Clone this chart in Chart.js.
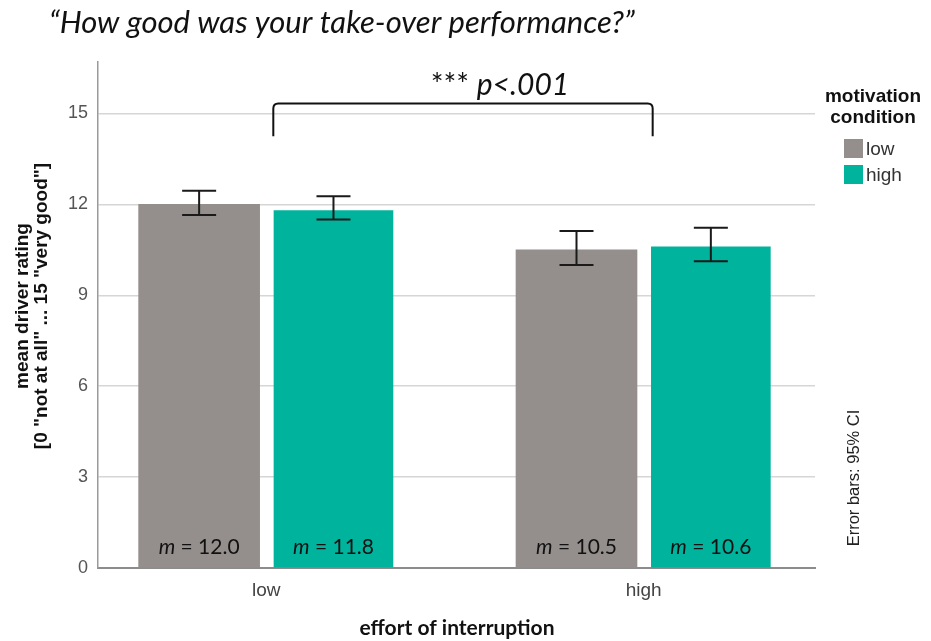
<!DOCTYPE html>
<html>
<head>
<meta charset="utf-8">
<script src="https://cdn.jsdelivr.net/npm/chart.js@4.4.1/dist/chart.umd.min.js"></script>
<style>
  html, body { margin: 0; padding: 0; background: #ffffff; }
  #wrap { width: 931px; height: 641px; position: relative; }
</style>
</head>
<body>
<div id="wrap"><canvas id="chart" width="931" height="641"></canvas></div>
<script>
// Effort of interruption (x groups) and motivation condition (series)
const effortLevels = ['low', 'high'];
const motivationLevels = ['low', 'high'];

// Mean self-rated take-over performance per group
const meansLowMotivation = [12.0, 10.5];
const meansHighMotivation = [11.8, 10.6];

// 95% confidence intervals
const ciLowMotivation = [[11.65, 12.45], [10.0, 11.12]];
const ciHighMotivation = [[11.5, 12.27], [10.12, 11.23]];

const yTicks = [0, 3, 6, 9, 12, 15];

const GRAY = '#948f8c';
const TEAL = '#00b39d';
const SANS = '"Liberation Sans", Arial, sans-serif';
const CAL = 'Lato, "Open Sans", sans-serif';

const groupX = effortLevels.map((_, i) => i + 1);
const barShift = 0.178;

function barPoints(values, dir) {
  return values.map((v, i) => ({ x: groupX[i] + dir * barShift, y: v }));
}

const overlay = {
  id: 'overlay',
  afterDatasetsDraw(chart) {
    const ctx = chart.ctx;
    const xs = chart.scales.x, ys = chart.scales.y;
    ctx.save();

    // error bars
    const series = [
      { ci: ciLowMotivation, dir: -1 },
      { ci: ciHighMotivation, dir: 1 }
    ];
    ctx.strokeStyle = '#1a1a1a';
    ctx.lineWidth = 2;
    series.forEach(s => {
      s.ci.forEach((c, i) => {
        const px = xs.getPixelForValue(groupX[i] + s.dir * barShift);
        const y1 = ys.getPixelForValue(c[0]);
        const y2 = ys.getPixelForValue(c[1]);
        ctx.beginPath();
        ctx.moveTo(px, y1); ctx.lineTo(px, y2);
        ctx.moveTo(px - 17, y1); ctx.lineTo(px + 17, y1);
        ctx.moveTo(px - 17, y2); ctx.lineTo(px + 17, y2);
        ctx.stroke();
      });
    });

    // mean labels inside the bars
    const labelY = 547;
    ctx.fillStyle = '#111';
    ctx.textBaseline = 'middle';
    [[meansLowMotivation, -1], [meansHighMotivation, 1]].forEach(([vals, dir]) => {
      vals.forEach((v, i) => {
        const px = xs.getPixelForValue(groupX[i] + dir * barShift);
        const a = 'm';
        const b = ' = ' + v.toFixed(1);
        ctx.font = 'italic 21px ' + CAL;
        const wa = ctx.measureText(a).width;
        ctx.font = '21px ' + CAL;
        const wb = ctx.measureText(b).width;
        const x0 = px - (wa + wb) / 2;
        ctx.textAlign = 'left';
        ctx.font = 'italic 21px ' + CAL;
        ctx.fillText(a, x0, labelY);
        ctx.font = '21px ' + CAL;
        ctx.fillText(b, x0 + wa, labelY);
      });
    });

    // significance bracket between effort groups
    const bx1 = xs.getPixelForValue(groupX[0]) + 7;
    const bx2 = xs.getPixelForValue(groupX[1]) + 9;
    const byTop = ys.getPixelForValue(15.33);
    const byBot = ys.getPixelForValue(14.25);
    const r = 5;
    ctx.strokeStyle = '#111';
    ctx.lineWidth = 2;
    ctx.beginPath();
    ctx.moveTo(bx1, byBot);
    ctx.lineTo(bx1, byTop + r);
    ctx.quadraticCurveTo(bx1, byTop, bx1 + r, byTop);
    ctx.lineTo(bx2 - r, byTop);
    ctx.quadraticCurveTo(bx2, byTop, bx2, byTop + r);
    ctx.lineTo(bx2, byBot);
    ctx.stroke();

    ctx.textBaseline = 'alphabetic';
    ctx.textAlign = 'left';
    const s1 = '*** ';
    const s2 = 'p<.001';
    ctx.font = '30px ' + CAL;
    const w1 = ctx.measureText(s1).width;
    ctx.font = 'italic 30px ' + CAL;
    const w2 = ctx.measureText(s2).width;
    const sx = (bx1 + bx2) / 2 + 37 - (w1 + w2) / 2;
    ctx.font = '30px ' + CAL;
    ctx.fillText(s1, sx, 95);
    ctx.font = 'italic 30px ' + CAL;
    ctx.fillText(s2, sx + w1, 95);

    // title
    ctx.font = 'italic 31px ' + CAL;
    ctx.fillStyle = '#111';
    ctx.fillText('\u201CHow good was your take-over performance?\u201D', 49, 33);

    // axis titles
    ctx.textAlign = 'center';
    ctx.textBaseline = 'middle';
    ctx.font = 'bold 21px ' + CAL;
    ctx.fillText('effort of interruption', 457, 628);

    ctx.save();
    ctx.translate(23, 306);
    ctx.rotate(-Math.PI / 2);
    ctx.font = 'bold 19px ' + SANS;
    ctx.fillText('mean driver rating', 0, 0);
    ctx.fillText('[0 "not at all" ... 15 "very good"]', 0, 19);
    ctx.restore();

    // legend
    ctx.font = 'bold 19px ' + SANS;
    ctx.fillText('motivation', 873, 97);
    ctx.fillText('condition', 873, 118);
    const boxColors = [GRAY, TEAL];
    motivationLevels.forEach((name, i) => {
      const top = 139 + i * 26;
      ctx.fillStyle = boxColors[i];
      ctx.fillRect(844, top, 19, 19);
      ctx.fillStyle = '#333';
      ctx.textAlign = 'left';
      ctx.font = '19px ' + SANS;
      ctx.fillText(name, 866, top + 11);
    });

    // error bar note
    ctx.save();
    ctx.translate(854, 478);
    ctx.rotate(-Math.PI / 2);
    ctx.textAlign = 'center';
    ctx.fillStyle = '#222';
    ctx.font = '16.5px ' + SANS;
    ctx.fillText('Error bars: 95% CI', 0, 0);
    ctx.restore();

    ctx.restore();
  }
};

new Chart(document.getElementById('chart'), {
  type: 'bar',
  data: {
    datasets: [
      {
        label: motivationLevels[0],
        data: barPoints(meansLowMotivation, -1),
        backgroundColor: GRAY,
        grouped: false,
        barThickness: 121
      },
      {
        label: motivationLevels[1],
        data: barPoints(meansHighMotivation, 1),
        backgroundColor: TEAL,
        grouped: false,
        barThickness: 119
      }
    ]
  },
  options: {
    responsive: false,
    animation: false,
    layout: { padding: { top: 62, right: 116, left: 0, bottom: 0 } },
    plugins: {
      legend: { display: false },
      tooltip: { enabled: false },
      title: { display: false }
    },
    scales: {
      x: {
        type: 'linear',
        offset: false,
        min: 0.554,
        max: 2.454,
        afterBuildTicks(scale) { scale.ticks = groupX.map(v => ({ value: v })); },
        afterFit(scale) { scale.height = 641 - 568; },
        grid: { display: false, drawTicks: false, offset: false },
        border: { display: true, color: '#8c8c8c', width: 2 },
        ticks: {
          padding: 11,
          color: '#444',
          font: { family: SANS, size: 19 },
          callback: (v) => effortLevels[Math.round(v) - 1]
        }
      },
      y: {
        min: 0,
        max: 16.7,
        afterBuildTicks(scale) { scale.ticks = yTicks.map(v => ({ value: v })); },
        afterFit(scale) { scale.width = 98; },
        grid: { color: '#d6d6d6', lineWidth: 1.5, drawTicks: false },
        border: { display: true, color: '#9a9a9a', width: 1.5 },
        ticks: {
          padding: 10,
          color: '#555',
          font: { family: SANS, size: 18 }
        }
      }
    }
  },
  plugins: [overlay]
});
</script>
</body>
</html>
